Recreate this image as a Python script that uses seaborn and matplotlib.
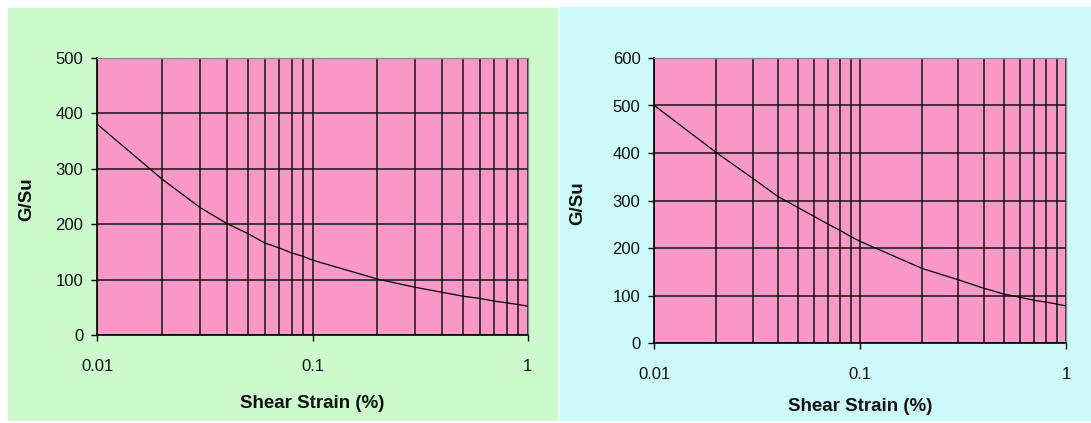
import numpy as np
import pandas as pd
import matplotlib
matplotlib.use('Agg')
import matplotlib.pyplot as plt
import matplotlib.ticker as mticker
from matplotlib.patches import Rectangle
import seaborn as sns

# shear strain (%) sampled at log-decade points
strain = [0.01, 0.02, 0.03, 0.04, 0.05, 0.06, 0.07, 0.08, 0.09, 0.1,
          0.2, 0.3, 0.4, 0.5, 0.6, 0.7, 0.8, 0.9, 1.0]
# G/Su
gsu_left = [380, 281, 230, 201, 183, 166, 157, 148, 142, 135,
            101, 86, 77, 70, 66, 61, 58, 55, 52]
gsu_right = [500, 401, 347, 308, 285, 266, 250, 237, 224, 214,
             157, 133, 115, 103, 96, 90, 86, 82, 78]
x_ticks = [0.01, 0.1, 1]
x_tick_labels = ['0.01', '0.1', '1']

df = pd.DataFrame({'Shear Strain (%)': strain, 'left': gsu_left, 'right': gsu_right})

sns.set_style('white')
plt.rcParams['font.family'] = ['Liberation Sans', 'DejaVu Sans']

W, H = 1091, 423
fig = plt.figure(figsize=(W / 100, H / 100), dpi=100, facecolor='white')

# panel backgrounds (pixel boxes: x0, y0_top, x1, y1_bottom)
for (x0, y0, x1, y1), col in [((8, 8, 557, 420), '#CCFACC'),
                              ((560, 7, 1091, 420), '#CCFAFA')]:
    fig.patches.append(Rectangle((x0 / W, 1 - y1 / H), (x1 - x0) / W, (y1 - y0) / H,
                                 transform=fig.transFigure, color=col, zorder=-5))


def make_panel(box, ycol, ymax, ylab_x, xlab_y):
    x0, y0, x1, y1 = box
    ax = fig.add_axes([x0 / W, 1 - y1 / H, (x1 - x0) / W, (y1 - y0) / H])
    ax.set_facecolor('#FA99C8')
    sns.lineplot(data=df, x='Shear Strain (%)', y=ycol, ax=ax, color='black', linewidth=0.9)
    ax.set_xscale('log')
    ax.set_xlim(0.01, 1)
    ax.set_ylim(0, ymax)
    ax.xaxis.set_major_locator(mticker.FixedLocator(x_ticks))
    ax.xaxis.set_major_formatter(mticker.FixedFormatter(x_tick_labels))
    ax.xaxis.set_minor_locator(mticker.LogLocator(base=10, subs=np.arange(2, 10)))
    ax.xaxis.set_minor_formatter(mticker.NullFormatter())
    ax.yaxis.set_major_locator(mticker.MultipleLocator(100))
    ax.grid(True, which='both', axis='x', color='#141414', linewidth=1.1)
    ax.grid(True, which='major', axis='y', color='#141414', linewidth=1.1)
    ax.set_axisbelow(True)
    ax.tick_params(axis='both', which='major', direction='out', length=4, width=1,
                   color='black', labelsize=12, labelcolor='#111111', bottom=True, left=True)
    ax.tick_params(axis='x', which='major', pad=13)
    ax.tick_params(axis='y', which='major', pad=6)
    ax.tick_params(axis='x', which='minor', length=0)
    for s in ['left', 'bottom']:
        ax.spines[s].set_color('black')
        ax.spines[s].set_linewidth(1.2)
    for s in ['top', 'right']:
        ax.spines[s].set_color('#8a8a8a')
        ax.spines[s].set_linewidth(0.9)
    ax.set_xlabel('Shear Strain (%)', fontsize=13.5, fontweight='bold', color='#111111')
    ax.set_ylabel('G/Su', fontsize=13.5, fontweight='bold', color='#111111')
    ax.xaxis.set_label_coords(0.5, xlab_y)
    ax.yaxis.set_label_coords(ylab_x, 0.49)
    return ax


make_panel((97.3, 57.7, 527.7, 335), 'left', 500, -0.145, -0.217)
make_panel((654.3, 58, 1066, 343), 'right', 600, -0.166, -0.193)

fig.savefig('out.png', dpi=100, facecolor=fig.get_facecolor())
